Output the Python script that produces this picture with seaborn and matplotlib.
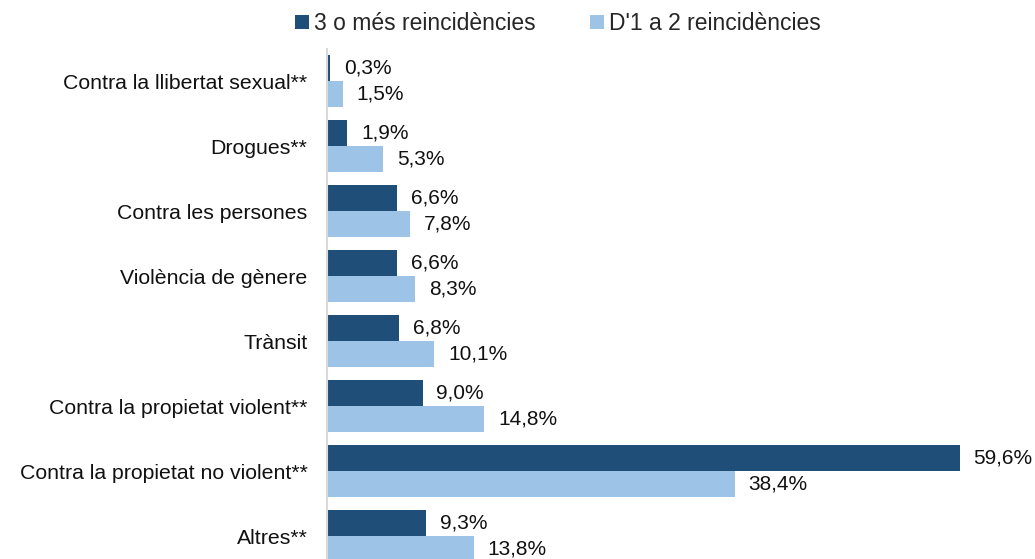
import numpy as np
import pandas as pd
import matplotlib.pyplot as plt
import seaborn as sns

# dades
categories = [
    "Contra la llibertat sexual**",
    "Drogues**",
    "Contra les persones",
    "Violència de gènere",
    "Trànsit",
    "Contra la propietat violent**",
    "Contra la propietat no violent**",
    "Altres**",
]
series_names = ["3 o més reincidències", "D'1 a 2 reincidències"]
vals_3_mes = [0.3, 1.9, 6.6, 6.6, 6.8, 9.0, 59.6, 9.3]
vals_1_2 = [1.5, 5.3, 7.8, 8.3, 10.1, 14.8, 38.4, 13.8]

colors = ["#1F4E79", "#9DC3E6"]

df = pd.DataFrame({
    "categoria": categories * 2,
    "serie": [series_names[0]] * len(categories) + [series_names[1]] * len(categories),
    "valor": vals_3_mes + vals_1_2,
})

sns.set_theme(style="white")
plt.rcParams["font.family"] = ["Liberation Sans", "DejaVu Sans"]

fig = plt.figure(figsize=(10.35, 5.59), dpi=100)
ax = fig.add_axes([0.316, -0.017, 0.684, 0.930])

sns.barplot(data=df, y="categoria", x="valor", hue="serie", order=categories,
            hue_order=series_names, palette=colors, orient="h", width=0.8,
            saturation=1, linewidth=0, ax=ax, legend=True)

for cont in ax.containers:
    ax.bar_label(cont, labels=[f"{v:.1f}%".replace(".", ",") for v in cont.datavalues],
                 padding=10, fontsize=15, color="#111111")

ax.set_xlim(0, 66.7)
ax.set_ylim(7.5, -0.5)
ax.set_xlabel("")
ax.set_ylabel("")
ax.set_xticks([])
ax.tick_params(axis="y", length=0, pad=14, labelsize=15.3, labelcolor="#111111")
for s in ["top", "right", "bottom"]:
    ax.spines[s].set_visible(False)
ax.spines["left"].set_color("#D9D9D9")
ax.spines["left"].set_linewidth(1.5)

handles, labels = ax.get_legend_handles_labels()
ax.get_legend().remove()
fig.legend(handles, labels, loc="center", bbox_to_anchor=(0.539, 0.958), ncol=2,
           frameon=False, fontsize=16.5, handlelength=0.6, handleheight=0.6,
           handletextpad=0.2, columnspacing=2.4)

fig.savefig("out.png", dpi=100)
